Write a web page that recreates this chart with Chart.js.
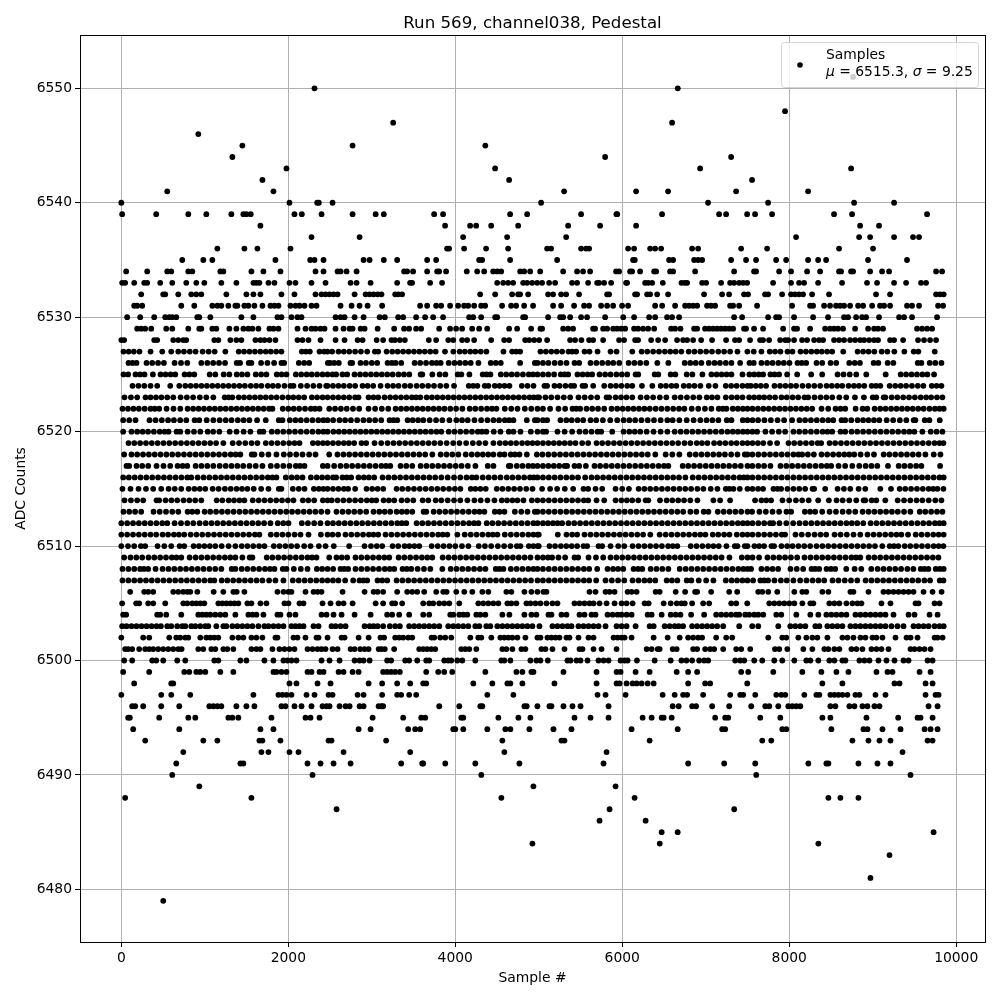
<!DOCTYPE html>
<html>
<head>
<meta charset="utf-8">
<title>Run 569, channel038, Pedestal</title>
<script src="https://cdn.jsdelivr.net/npm/chart.js@4/dist/chart.umd.min.js"></script>
<style>
  html, body { margin: 0; padding: 0; background: #fff; }
  canvas { display: block; }
</style>
</head>
<body>
<canvas id="chart" width="1000" height="1000"></canvas>
<script>
const title = "Run 569, channel038, Pedestal";
const xLabel = "Sample #";
const yLabel = "ADC Counts";
const xTicks = [0, 2000, 4000, 6000, 8000, 10000];
const yTicks = [6480, 6490, 6500, 6510, 6520, 6530, 6540, 6550];
const xRange = [-495, 10345];
const yRange = [6475.4, 6554.66];

// sample numbers, one list per ADC level
const x6551 = [8765];
const x6550 = [2314, 6665];
const x6548 = [7950];
const x6547 = [3256, 6597];
const x6546 = [922];
const x6545 = [1450, 2770, 4360];
const x6544 = [1330, 5795, 7304];
const x6543 = [1978, 4477, 6933, 8741];
const x6542 = [1690, 4645, 7555];
const x6541 = [550, 1822, 5304, 6166, 6549, 7364, 8226];
const x6540 = [0, 2014, 2346, 2366, 2530, 5028, 7028, 7747, 8777, 9256];
const x6539 = [10, 418, 802, 1018, 1318, 1462, 1498, 1550, 2074, 2162, 2398, 2770, 3046, 3144, 3747, 3854, 4657, 4861, 5507, 5930, 5940, 6477, 7160, 7244, 7496, 7591, 7795, 8537, 8753, 9651];
const x6538 = [1666, 3878, 4178, 4250, 4430, 4753, 5352, 5735, 6166, 8849, 9076];
const x6537 = [2278, 2854, 4094, 4621, 5328, 8082, 8837, 8969, 9256, 9483, 9555];
const x6536 = [1150, 1474, 1630, 2026, 3902, 3926, 4106, 4369, 4633, 5100, 5148, 5507, 5567, 5603, 6070, 6142, 6334, 6394, 6466, 6837, 6909, 7424, 7735, 8597, 9004];
const x6535 = [730, 982, 1090, 1846, 2262, 2314, 2422, 2902, 2974, 3144, 3304, 3663, 3771, 4286, 4322, 4657, 5220, 6130, 6150, 6561, 6609, 6861, 6909, 6957, 7304, 7483, 7603, 7843, 7963, 8226, 8346, 8442, 8944, 9411];
const x6534 = [58, 310, 550, 598, 802, 850, 1186, 1222, 1558, 1702, 1906, 2326, 2422, 2590, 2626, 2698, 2818, 3387, 3423, 3495, 3663, 3783, 3807, 3890, 4138, 4262, 4346, 4454, 4502, 4550, 4777, 4825, 4897, 5017, 5292, 5459, 5531, 5615, 5926, 5962, 6094, 6118, 6214, 6382, 6406, 6573, 6609, 6873, 7340, 7579, 7603, 7879, 8022, 8214, 8370, 8597, 8621, 8741, 8765, 8969, 9112, 9196, 9759, 9831];
const x6533 = [10, 46, 154, 274, 310, 466, 610, 778, 898, 994, 1198, 1378, 1582, 1618, 1654, 1762, 1834, 2014, 2086, 2278, 2446, 2746, 2818, 2986, 3304, 3459, 3483, 3699, 3842, 4502, 4574, 4633, 4693, 4813, 4861, 4921, 4981, 5040, 5124, 5196, 5399, 5459, 5591, 5699, 5723, 5783, 5867, 6046, 6058, 6274, 6310, 6358, 6486, 6709, 6749, 6777, 6957, 7005, 7184, 7292, 7340, 7400, 7448, 7496, 7807, 8022, 8118, 8178, 8346, 8633, 8932, 9052, 9256, 9400, 9579, 9639];
const x6532 = [238, 502, 526, 682, 838, 898, 958, 1258, 1498, 1582, 1666, 1918, 2074, 2326, 2398, 2446, 2494, 2542, 2590, 2794, 2926, 2974, 3022, 3070, 3116, 3280, 3316, 3363, 4298, 4478, 4681, 4753, 4777, 4873, 5112, 5172, 5268, 5328, 5483, 5819, 5843, 6154, 6178, 6298, 6334, 6418, 6549, 6980, 7196, 7280, 7459, 7507, 7711, 7747, 7915, 8022, 8070, 8118, 8166, 8274, 8477, 9040, 9208, 9759, 9807, 9850];
const x6531 = [154, 190, 250, 718, 874, 1090, 1150, 1198, 1282, 1366, 1390, 1474, 1522, 1594, 1690, 1786, 1834, 1882, 2026, 2086, 2134, 2194, 2278, 2338, 2626, 2758, 2854, 2950, 3124, 3579, 3663, 3771, 3831, 3938, 4034, 4106, 4154, 4226, 4310, 4358, 4561, 4669, 4729, 4825, 4932, 5172, 5268, 5423, 5543, 5603, 5747, 5819, 5891, 5998, 6070, 6394, 6478, 6633, 6753, 6801, 6849, 6897, 7016, 7064, 7112, 7292, 7328, 7400, 7615, 8034, 8250, 8286, 8418, 8489, 8561, 8609, 8657, 8729, 8825, 8885, 8993, 9088, 9136, 9208, 9411, 9471, 9555, 9783, 9843];
const x6530 = [70, 226, 394, 526, 574, 610, 658, 910, 934, 1066, 1438, 1582, 1870, 1918, 2038, 2110, 2158, 2566, 2626, 2674, 2794, 2902, 3094, 3156, 3316, 3376, 3531, 3639, 3735, 3854, 4166, 4214, 4310, 4478, 4502, 4813, 4837, 5112, 5256, 5292, 5376, 5507, 5579, 5795, 6012, 6142, 6322, 6394, 6537, 6597, 6681, 7340, 7436, 7747, 7843, 7879, 8058, 8286, 8465, 8657, 8705, 8801, 8873, 8921, 9076, 9316, 9376, 9471, 9771];
const x6529 = [190, 238, 286, 358, 538, 610, 802, 934, 958, 1090, 1138, 1294, 1378, 1462, 1522, 1570, 1642, 1774, 1822, 1882, 2110, 2206, 2278, 2326, 2386, 2434, 2566, 2662, 2734, 2770, 2866, 2914, 3070, 3268, 3387, 3447, 3531, 3591, 3807, 3938, 4010, 4082, 4202, 4286, 4382, 4645, 4741, 4909, 5020, 5040, 5292, 5352, 5411, 5651, 5675, 5771, 5819, 5891, 5939, 5987, 6035, 6142, 6190, 6250, 6310, 6382, 6585, 6633, 6697, 6861, 6897, 6992, 7040, 7088, 7136, 7184, 7232, 7280, 7328, 7459, 7483, 7579, 7687, 7927, 8058, 8094, 8250, 8430, 8489, 8537, 8585, 8645, 8789, 8945, 9017, 9064, 9124, 9531, 9591, 9651, 9711];
const x6528 = [0, 34, 394, 430, 622, 682, 742, 778, 1114, 1162, 1306, 1378, 1438, 1606, 1666, 1714, 1774, 1846, 2110, 2170, 2242, 2386, 2566, 2674, 2830, 2890, 3058, 3136, 3236, 3276, 3336, 3396, 3683, 3771, 3916, 3976, 4082, 4142, 4226, 4430, 4586, 4645, 4837, 4885, 4945, 5005, 5100, 5375, 5435, 5511, 5603, 5651, 5771, 5962, 6022, 6154, 6190, 6346, 6430, 6514, 6657, 6729, 6777, 6849, 6945, 7076, 7244, 7351, 7400, 7531, 7651, 7687, 7759, 7891, 7951, 7987, 8058, 8154, 8214, 8298, 8358, 8406, 8537, 8597, 8657, 8729, 8789, 8849, 8897, 8957, 9017, 9064, 9208, 9256, 9364, 9543, 9615, 9687, 9759];
const x6527 = [26, 88, 150, 218, 350, 490, 598, 682, 750, 820, 890, 974, 1046, 1118, 1246, 1406, 1470, 1535, 1600, 1665, 1730, 1790, 1855, 1918, 2162, 2210, 2258, 2374, 2430, 2470, 2525, 2601, 2665, 2730, 2800, 2870, 2945, 3037, 3077, 3177, 3245, 3310, 3375, 3440, 3505, 3570, 3635, 3700, 3765, 3877, 3977, 4053, 4115, 4180, 4240, 4305, 4373, 4577, 4681, 4730, 4777, 5020, 5085, 5150, 5215, 5280, 5356, 5400, 5448, 5548, 5608, 5704, 5860, 5932, 6120, 6232, 6300, 6370, 6440, 6510, 6575, 6640, 6708, 6796, 6865, 6935, 7005, 7075, 7150, 7220, 7292, 7380, 7499, 7575, 7667, 7767, 7830, 7895, 7979, 8039, 8135, 8200, 8265, 8330, 8390, 8455, 8515, 8647, 8819, 8885, 8950, 9019, 9107, 9175, 9259, 9379, 9491, 9547, 9743];
const x6526 = [86, 134, 182, 302, 370, 440, 510, 638, 715, 790, 958, 1030, 1100, 1170, 1242, 1382, 1422, 1526, 1558, 1674, 1750, 1830, 1918, 1950, 2126, 2190, 2250, 2474, 2500, 2550, 2605, 2745, 2765, 2865, 2930, 3000, 3065, 3189, 3240, 3285, 3353, 3513, 3580, 3650, 3720, 3775, 3825, 3921, 3990, 4055, 4120, 4185, 4277, 4425, 4485, 4545, 4777, 4953, 4985, 5050, 5115, 5190, 5260, 5332, 5428, 5484, 5620, 5690, 5760, 5830, 5892, 5964, 6076, 6145, 6215, 6288, 6420, 6552, 6748, 6815, 6880, 6948, 7036, 7105, 7170, 7240, 7308, 7412, 7524, 7575, 7667, 7735, 7800, 7870, 7935, 8003, 8099, 8150, 8203, 8327, 8395, 8495, 8563, 8719, 8785, 8847, 9011, 9067, 9179, 9247, 9539, 9583, 9683, 9750, 9823];
const x6525 = [26, 82, 170, 225, 278, 378, 470, 530, 590, 646, 758, 815, 874, 1058, 1126, 1226, 1294, 1382, 1445, 1510, 1610, 1675, 1738, 1862, 1920, 1978, 2090, 2155, 2220, 2280, 2345, 2410, 2470, 2530, 2573, 2649, 2705, 2793, 2860, 2925, 2990, 3055, 3120, 3185, 3250, 3320, 3385, 3449, 3585, 3605, 3725, 3813, 3881, 4029, 4073, 4169, 4329, 4375, 4421, 4545, 4610, 4675, 4740, 4810, 4880, 4930, 4985, 5050, 5115, 5184, 5264, 5310, 5352, 5464, 5525, 5585, 5640, 5728, 5795, 5860, 5930, 5995, 6060, 6160, 6192, 6388, 6432, 6580, 6636, 6772, 6840, 6960, 7068, 7130, 7190, 7250, 7308, 7440, 7523, 7580, 7635, 7687, 7775, 7825, 7879, 7975, 8095, 8263, 8395, 8579, 8650, 8725, 8803, 8923, 9155, 9335, 9400, 9465, 9530, 9595, 9655, 9735];
const x6524 = [134, 205, 275, 350, 430, 586, 694, 766, 830, 895, 960, 1025, 1090, 1155, 1220, 1285, 1350, 1415, 1480, 1550, 1615, 1678, 1754, 1815, 1878, 1954, 2026, 2062, 2150, 2225, 2300, 2374, 2454, 2470, 2535, 2600, 2665, 2735, 2801, 2889, 2950, 3017, 3105, 3189, 3255, 3320, 3395, 3461, 3537, 3605, 3675, 3745, 3820, 3893, 3985, 4161, 4215, 4265, 4353, 4397, 4473, 4530, 4590, 4649, 4797, 4865, 4937, 5068, 5100, 5188, 5250, 5320, 5385, 5424, 5524, 5556, 5652, 5784, 5860, 5925, 5990, 6060, 6120, 6236, 6360, 6460, 6524, 6590, 6648, 6736, 6800, 6865, 6936, 7036, 7116, 7240, 7305, 7370, 7440, 7500, 7540, 7600, 7660, 7723, 7823, 7890, 7955, 8020, 8083, 8159, 8230, 8300, 8371, 8447, 8510, 8575, 8635, 8711, 8775, 8835, 8899, 8987, 9040, 9091, 9203, 9270, 9335, 9400, 9470, 9540, 9607, 9707, 9765, 9823];
const x6523 = [38, 115, 190, 290, 350, 415, 480, 550, 622, 710, 785, 860, 940, 1018, 1102, 1238, 1285, 1330, 1406, 1470, 1535, 1600, 1665, 1730, 1795, 1860, 1930, 2000, 2060, 2125, 2190, 2282, 2345, 2410, 2470, 2535, 2600, 2665, 2730, 2800, 2841, 2961, 3020, 3077, 3153, 3220, 3285, 3350, 3415, 3480, 3530, 3581, 3657, 3720, 3785, 3850, 3915, 3980, 4045, 4110, 4175, 4240, 4305, 4370, 4435, 4500, 4565, 4630, 4695, 4760, 4825, 4890, 4940, 4985, 5004, 5080, 5150, 5225, 5300, 5376, 5476, 5550, 5625, 5700, 5812, 5844, 5920, 5985, 6050, 6120, 6220, 6295, 6370, 6450, 6528, 6628, 6700, 6775, 6850, 6924, 7012, 7075, 7140, 7240, 7310, 7375, 7440, 7520, 7580, 7640, 7700, 7765, 7831, 7907, 7970, 8040, 8107, 8183, 8227, 8303, 8375, 8445, 8515, 8600, 8683, 8787, 8895, 9000, 9043, 9131, 9151, 9227, 9295, 9365, 9435, 9505, 9575, 9640, 9700, 9770, 9835];
const x6522 = [14, 80, 145, 210, 280, 350, 400, 454, 542, 625, 706, 794, 860, 925, 990, 1055, 1120, 1185, 1250, 1315, 1380, 1445, 1510, 1575, 1640, 1705, 1770, 1810, 1934, 2000, 2065, 2130, 2200, 2270, 2320, 2374, 2490, 2560, 2630, 2700, 2775, 2849, 2961, 3040, 3120, 3197, 3285, 3350, 3415, 3480, 3545, 3610, 3675, 3740, 3805, 3870, 3940, 4010, 4085, 4173, 4240, 4310, 4380, 4440, 4493, 4593, 4670, 4745, 4833, 4910, 4985, 5050, 5136, 5236, 5316, 5404, 5450, 5496, 5572, 5640, 5710, 5784, 5872, 5940, 6005, 6070, 6135, 6200, 6265, 6330, 6400, 6470, 6540, 6610, 6680, 6744, 6832, 6910, 6990, 7068, 7156, 7205, 7248, 7324, 7385, 7445, 7500, 7560, 7625, 7690, 7755, 7820, 7885, 7950, 8015, 8080, 8145, 8210, 8275, 8387, 8467, 8555, 8615, 8671, 8795, 8879, 8935, 9023, 9090, 9155, 9220, 9285, 9350, 9415, 9480, 9545, 9610, 9680, 9745, 9800, 9850];
const x6521 = [22, 95, 170, 338, 410, 485, 560, 630, 705, 778, 878, 934, 1022, 1102, 1178, 1250, 1320, 1395, 1465, 1534, 1626, 1730, 1886, 1930, 2018, 2085, 2150, 2220, 2290, 2360, 2420, 2470, 2537, 2613, 2680, 2750, 2825, 2900, 2970, 3040, 3113, 3213, 3260, 3305, 3429, 3490, 3555, 3617, 3693, 3770, 3845, 3930, 4013, 4081, 4149, 4230, 4310, 4385, 4457, 4525, 4593, 4645, 4697, 4857, 4953, 4985, 5050, 5100, 5260, 5330, 5395, 5465, 5532, 5620, 5688, 5768, 5856, 5940, 6016, 6085, 6155, 6230, 6305, 6380, 6460, 6540, 6604, 6684, 6772, 6855, 6935, 7010, 7080, 7152, 7252, 7308, 7444, 7500, 7560, 7627, 7703, 7780, 7860, 7939, 8035, 8123, 8190, 8260, 8330, 8400, 8467, 8527, 8627, 8671, 8743, 8819, 8885, 8950, 9015, 9079, 9167, 9245, 9325, 9403, 9491, 9511, 9623, 9679, 9803];
const x6520 = [22, 122, 190, 255, 320, 390, 460, 520, 566, 662, 706, 794, 870, 946, 1034, 1100, 1174, 1298, 1380, 1465, 1546, 1658, 1702, 1802, 1870, 1940, 2010, 2080, 2150, 2220, 2290, 2360, 2420, 2470, 2540, 2605, 2670, 2735, 2800, 2865, 2930, 2995, 3060, 3125, 3190, 3255, 3320, 3385, 3450, 3515, 3580, 3645, 3710, 3775, 3833, 3921, 3990, 4060, 4130, 4200, 4270, 4320, 4373, 4461, 4541, 4641, 4697, 4781, 4905, 4985, 5050, 5088, 5224, 5310, 5400, 5488, 5560, 5632, 5704, 5748, 5880, 6016, 6085, 6150, 6216, 6292, 6375, 6460, 6540, 6628, 6700, 6770, 6840, 6910, 6980, 7050, 7120, 7190, 7260, 7324, 7385, 7445, 7500, 7560, 7615, 7715, 7795, 7875, 7951, 8051, 8120, 8190, 8260, 8330, 8400, 8460, 8515, 8615, 8671, 8747, 8815, 8885, 8955, 9025, 9095, 9165, 9235, 9305, 9375, 9440, 9499, 9595, 9695, 9765, 9835];
const x6519 = [86, 155, 225, 295, 365, 435, 505, 575, 645, 715, 785, 855, 925, 995, 1065, 1135, 1222, 1334, 1410, 1485, 1560, 1630, 1730, 1800, 1870, 1940, 2010, 2075, 2134, 2294, 2355, 2415, 2470, 2535, 2600, 2665, 2725, 2789, 2877, 2933, 3033, 3113, 3189, 3260, 3330, 3400, 3470, 3540, 3610, 3680, 3750, 3821, 3897, 3975, 4050, 4130, 4210, 4285, 4361, 4457, 4533, 4600, 4665, 4730, 4800, 4865, 4925, 4985, 5050, 5115, 5180, 5245, 5310, 5375, 5440, 5520, 5592, 5692, 5760, 5830, 5900, 5970, 6040, 6110, 6180, 6250, 6320, 6390, 6460, 6530, 6600, 6670, 6745, 6816, 6892, 6955, 7020, 7100, 7168, 7235, 7305, 7370, 7440, 7500, 7560, 7625, 7690, 7770, 7855, 7991, 8060, 8130, 8200, 8270, 8340, 8383, 8483, 8550, 8620, 8690, 8760, 8830, 8900, 8970, 9040, 9110, 9180, 9250, 9320, 9390, 9460, 9530, 9600, 9670, 9740, 9800, 9847];
const x6518 = [34, 122, 190, 260, 330, 400, 470, 540, 610, 680, 750, 820, 890, 960, 1030, 1100, 1170, 1240, 1310, 1370, 1426, 1562, 1594, 1682, 1762, 1858, 1946, 2020, 2095, 2170, 2250, 2326, 2490, 2589, 2660, 2730, 2800, 2870, 2940, 3010, 3080, 3150, 3220, 3290, 3360, 3430, 3500, 3570, 3640, 3725, 3825, 3895, 3965, 4037, 4125, 4197, 4265, 4330, 4395, 4457, 4533, 4589, 4665, 4715, 4769, 4857, 4977, 5044, 5115, 5185, 5255, 5325, 5395, 5465, 5535, 5605, 5675, 5745, 5815, 5885, 5955, 6025, 6095, 6165, 6235, 6305, 6396, 6520, 6600, 6684, 6808, 6880, 6950, 7020, 7090, 7160, 7230, 7305, 7380, 7468, 7500, 7559, 7630, 7700, 7770, 7840, 7910, 7980, 8050, 8110, 8155, 8223, 8295, 8387, 8455, 8525, 8595, 8660, 8720, 8779, 8855, 8935, 9015, 9131, 9200, 9270, 9340, 9410, 9480, 9550, 9631, 9731, 9811];
const x6517 = [62, 94, 182, 250, 322, 422, 505, 586, 674, 735, 790, 890, 960, 1030, 1102, 1178, 1250, 1320, 1390, 1460, 1535, 1610, 1690, 1790, 1865, 1940, 2014, 2090, 2140, 2194, 2414, 2470, 2549, 2625, 2695, 2765, 2835, 2905, 2975, 3045, 3115, 3170, 3221, 3345, 3413, 3485, 3585, 3655, 3725, 3795, 3865, 3935, 4005, 4075, 4150, 4241, 4389, 4457, 4641, 4661, 4737, 4805, 4875, 4930, 4985, 5050, 5115, 5180, 5245, 5310, 5340, 5428, 5484, 5564, 5668, 5735, 5805, 5875, 5945, 6015, 6085, 6155, 6225, 6295, 6365, 6435, 6500, 6552, 6724, 6790, 6860, 6930, 7000, 7070, 7140, 7210, 7280, 7350, 7420, 7500, 7559, 7630, 7699, 7775, 7895, 7965, 8035, 8105, 8175, 8245, 8315, 8385, 8450, 8503, 8591, 8670, 8755, 8839, 8915, 8985, 9055, 9183, 9311, 9380, 9450, 9520, 9583, 9807];
const x6516 = [22, 90, 160, 230, 300, 370, 440, 510, 580, 650, 720, 790, 838, 914, 985, 1055, 1125, 1195, 1265, 1335, 1405, 1475, 1545, 1615, 1685, 1755, 1810, 1858, 1970, 2040, 2105, 2170, 2270, 2340, 2405, 2470, 2535, 2573, 2649, 2700, 2753, 2841, 2905, 2965, 3029, 3129, 3200, 3270, 3340, 3410, 3480, 3550, 3620, 3690, 3760, 3833, 3909, 3985, 4060, 4135, 4200, 4253, 4329, 4400, 4470, 4541, 4617, 4685, 4755, 4825, 4895, 4940, 4985, 5050, 5120, 5190, 5260, 5330, 5400, 5470, 5556, 5632, 5700, 5770, 5840, 5910, 5980, 6050, 6120, 6190, 6260, 6330, 6400, 6470, 6540, 6610, 6680, 6756, 6844, 6915, 6985, 7055, 7125, 7195, 7265, 7335, 7405, 7455, 7500, 7560, 7630, 7700, 7770, 7840, 7910, 7980, 8050, 8120, 8190, 8260, 8330, 8400, 8470, 8540, 8610, 8680, 8750, 8820, 8890, 8960, 9030, 9100, 9170, 9240, 9310, 9380, 9450, 9520, 9590, 9660, 9730, 9800, 9850];
const x6515 = [14, 110, 206, 295, 382, 478, 566, 640, 718, 806, 875, 940, 1006, 1094, 1165, 1240, 1310, 1380, 1445, 1510, 1586, 1675, 1762, 1886, 1918, 2054, 2125, 2194, 2306, 2365, 2420, 2470, 2535, 2600, 2665, 2717, 2801, 2937, 3005, 3070, 3137, 3297, 3365, 3435, 3505, 3575, 3645, 3715, 3785, 3855, 3925, 3995, 4061, 4185, 4240, 4301, 4365, 4497, 4565, 4635, 4705, 4775, 4850, 4925, 5040, 5136, 5220, 5312, 5412, 5536, 5592, 5680, 5760, 5920, 6000, 6080, 6196, 6265, 6335, 6405, 6475, 6545, 6615, 6685, 6755, 6825, 6900, 6972, 7060, 7140, 7240, 7285, 7332, 7408, 7500, 7560, 7627, 7687, 7811, 7860, 7903, 7979, 8050, 8120, 8191, 8279, 8299, 8431, 8579, 8655, 8731, 8831, 8911, 9091, 9219, 9323, 9390, 9460, 9530, 9600, 9670, 9725, 9775, 9847];
const x6514 = [38, 115, 190, 262, 422, 454, 530, 600, 670, 745, 815, 885, 958, 1142, 1210, 1286, 1350, 1415, 1474, 1574, 1645, 1715, 1785, 1855, 1925, 1995, 2062, 2174, 2240, 2310, 2414, 2470, 2520, 2590, 2660, 2730, 2800, 2870, 2940, 3000, 3053, 3141, 3205, 3269, 3357, 3425, 3497, 3609, 3677, 3765, 3833, 3909, 3985, 4060, 4145, 4229, 4305, 4385, 4469, 4557, 4620, 4685, 4745, 4817, 4917, 4985, 5050, 5120, 5190, 5260, 5330, 5400, 5470, 5540, 5592, 5692, 5784, 5920, 5990, 6055, 6120, 6192, 6280, 6312, 6452, 6532, 6600, 6670, 6740, 6815, 6900, 7092, 7172, 7292, 7591, 7667, 7725, 7783, 7919, 8000, 8080, 8155, 8233, 8347, 8475, 8567, 8640, 8719, 8803, 8891, 8911, 8987, 9043, 9151, 9299, 9375, 9450, 9525, 9595, 9671, 9750, 9823];
const x6513 = [26, 95, 165, 238, 386, 460, 535, 610, 682, 794, 850, 910, 998, 1065, 1135, 1205, 1275, 1345, 1415, 1485, 1555, 1625, 1695, 1765, 1835, 1905, 1975, 2045, 2115, 2185, 2255, 2325, 2395, 2470, 2577, 2650, 2720, 2790, 2860, 2933, 3021, 3090, 3155, 3221, 3297, 3360, 3420, 3485, 3621, 3653, 3741, 3810, 3880, 3950, 4020, 4090, 4160, 4230, 4290, 4349, 4473, 4530, 4589, 4713, 4790, 4865, 4953, 4985, 5050, 5120, 5190, 5260, 5330, 5400, 5470, 5540, 5610, 5680, 5750, 5820, 5890, 5960, 6030, 6100, 6170, 6240, 6310, 6380, 6450, 6520, 6590, 6660, 6730, 6816, 6888, 6976, 7032, 7144, 7215, 7285, 7355, 7425, 7500, 7555, 7643, 7720, 7800, 7879, 7967, 8023, 8187, 8250, 8311, 8395, 8483, 8560, 8640, 8715, 8791, 8879, 8950, 9020, 9090, 9160, 9230, 9300, 9375, 9451, 9563, 9630, 9700, 9770, 9835];
const x6512 = [0, 70, 140, 210, 280, 350, 420, 490, 550, 638, 715, 790, 862, 938, 1010, 1080, 1150, 1220, 1290, 1360, 1430, 1500, 1570, 1640, 1710, 1786, 1874, 1940, 2002, 2162, 2235, 2310, 2385, 2470, 2535, 2605, 2675, 2745, 2815, 2885, 2955, 3025, 3095, 3165, 3235, 3305, 3360, 3413, 3537, 3605, 3675, 3745, 3815, 3885, 3955, 4025, 4095, 4165, 4225, 4277, 4377, 4445, 4515, 4585, 4655, 4725, 4795, 4865, 4935, 4985, 5050, 5110, 5170, 5225, 5280, 5356, 5425, 5495, 5565, 5635, 5705, 5775, 5845, 5915, 5985, 6055, 6125, 6195, 6265, 6335, 6405, 6475, 6545, 6615, 6685, 6755, 6825, 6895, 6965, 7035, 7105, 7175, 7245, 7315, 7385, 7445, 7500, 7560, 7630, 7700, 7770, 7807, 7883, 7965, 8047, 8123, 8195, 8265, 8335, 8405, 8475, 8545, 8615, 8685, 8750, 8815, 8887, 8975, 9045, 9115, 9185, 9255, 9325, 9395, 9465, 9535, 9605, 9675, 9745, 9800, 9850];
const x6511 = [0, 70, 140, 210, 280, 350, 418, 494, 560, 630, 690, 754, 830, 900, 970, 1040, 1110, 1180, 1250, 1320, 1390, 1460, 1530, 1600, 1654, 1790, 1860, 1930, 2000, 2075, 2146, 2242, 2390, 2470, 2530, 2597, 2685, 2755, 2825, 2895, 2965, 3020, 3077, 3165, 3235, 3305, 3375, 3445, 3515, 3585, 3655, 3725, 3795, 3850, 3905, 4025, 4113, 4185, 4255, 4325, 4395, 4450, 4505, 4593, 4665, 4735, 4805, 4875, 4935, 4985, 5000, 5228, 5332, 5400, 5460, 5548, 5620, 5690, 5760, 5830, 5900, 5970, 6040, 6110, 6180, 6250, 6336, 6448, 6520, 6590, 6660, 6730, 6800, 6870, 6935, 6996, 7084, 7150, 7220, 7284, 7372, 7440, 7500, 7560, 7630, 7700, 7770, 7840, 7910, 7951, 8075, 8150, 8227, 8303, 8375, 8443, 8543, 8615, 8690, 8770, 8851, 8939, 9010, 9080, 9150, 9220, 9285, 9343, 9423, 9515, 9585, 9655, 9725, 9790, 9850];
const x6510 = [0, 80, 154, 234, 286, 434, 515, 598, 698, 754, 866, 930, 995, 1060, 1126, 1202, 1285, 1366, 1442, 1510, 1580, 1650, 1714, 1826, 1895, 1965, 2035, 2105, 2190, 2266, 2366, 2446, 2545, 2729, 2913, 2990, 3060, 3125, 3249, 3317, 3393, 3450, 3510, 3569, 3717, 3790, 3860, 3930, 4000, 4080, 4157, 4281, 4355, 4430, 4510, 4585, 4661, 4737, 4781, 4881, 4935, 4985, 5000, 5128, 5195, 5265, 5330, 5395, 5460, 5536, 5580, 5716, 5760, 5860, 5952, 6024, 6124, 6195, 6265, 6335, 6405, 6475, 6550, 6605, 6660, 6820, 6890, 6960, 7030, 7092, 7156, 7248, 7348, 7380, 7468, 7500, 7583, 7640, 7699, 7787, 7819, 7907, 7975, 8040, 8110, 8180, 8251, 8327, 8397, 8467, 8537, 8607, 8677, 8747, 8817, 8887, 8957, 9027, 9115, 9203, 9255, 9307, 9383, 9450, 9520, 9590, 9660, 9730, 9790, 9847];
const x6509 = [34, 110, 180, 250, 326, 395, 465, 535, 605, 660, 718, 818, 890, 960, 1030, 1100, 1170, 1240, 1305, 1366, 1450, 1538, 1570, 1742, 1810, 1880, 1950, 2020, 2090, 2160, 2230, 2285, 2338, 2490, 2577, 2640, 2705, 2805, 2875, 2945, 3015, 3085, 3150, 3209, 3321, 3390, 3460, 3530, 3600, 3665, 3725, 3849, 3920, 3990, 4060, 4130, 4200, 4270, 4340, 4410, 4480, 4550, 4620, 4690, 4760, 4830, 4900, 4985, 5050, 5110, 5160, 5236, 5316, 5428, 5472, 5596, 5685, 5772, 5860, 5930, 6000, 6070, 6140, 6210, 6280, 6350, 6420, 6490, 6560, 6630, 6700, 6770, 6840, 6910, 6980, 7050, 7120, 7190, 7284, 7432, 7500, 7560, 7639, 7739, 7810, 7880, 7950, 8020, 8095, 8183, 8255, 8325, 8395, 8465, 8535, 8605, 8675, 8745, 8800, 8851, 8951, 9020, 9090, 9160, 9230, 9300, 9370, 9440, 9510, 9580, 9650, 9720, 9787];
const x6508 = [14, 85, 155, 225, 270, 322, 410, 494, 565, 635, 705, 775, 845, 915, 985, 1055, 1125, 1198, 1322, 1366, 1442, 1510, 1580, 1650, 1720, 1780, 1834, 1934, 1978, 2066, 2150, 2230, 2342, 2405, 2470, 2537, 2625, 2670, 2717, 2805, 2875, 2945, 3015, 3085, 3155, 3215, 3269, 3369, 3420, 3473, 3549, 3625, 3701, 3845, 3945, 4015, 4085, 4155, 4225, 4295, 4361, 4485, 4530, 4577, 4665, 4735, 4805, 4875, 4935, 4985, 5050, 5120, 5190, 5260, 5330, 5400, 5470, 5540, 5604, 5700, 5824, 5890, 5950, 6012, 6136, 6190, 6240, 6340, 6410, 6480, 6552, 6688, 6760, 6830, 6900, 6970, 7040, 7110, 7180, 7250, 7320, 7390, 7450, 7500, 7543, 7667, 7735, 7800, 7867, 8015, 8090, 8167, 8267, 8310, 8359, 8447, 8500, 8551, 8683, 8783, 8863, 8983, 9059, 9130, 9200, 9270, 9340, 9415, 9487, 9575, 9620, 9667, 9755, 9805, 9850];
const x6507 = [14, 85, 155, 225, 295, 365, 435, 505, 575, 645, 715, 785, 855, 925, 995, 1065, 1114, 1202, 1270, 1340, 1410, 1480, 1550, 1620, 1690, 1770, 1846, 1942, 2054, 2125, 2195, 2265, 2335, 2405, 2470, 2535, 2600, 2681, 2777, 2853, 2900, 2945, 3069, 3125, 3185, 3297, 3367, 3437, 3507, 3577, 3647, 3717, 3787, 3857, 3927, 3997, 4067, 4137, 4207, 4277, 4347, 4417, 4487, 4557, 4627, 4697, 4767, 4837, 4907, 4985, 5050, 5120, 5190, 5260, 5330, 5400, 5470, 5540, 5604, 5688, 5800, 5875, 5950, 6024, 6124, 6195, 6265, 6330, 6396, 6532, 6595, 6660, 6772, 6828, 6916, 7005, 7092, 7240, 7310, 7375, 7440, 7500, 7567, 7655, 7700, 7747, 7823, 7900, 7970, 8050, 8131, 8207, 8280, 8350, 8419, 8519, 8590, 8665, 8740, 8815, 8915, 8985, 9055, 9125, 9195, 9265, 9335, 9405, 9475, 9545, 9619, 9687, 9803, 9847];
const x6506 = [106, 274, 322, 382, 622, 682, 742, 790, 826, 910, 1106, 1222, 1342, 1382, 1474, 1870, 1942, 2002, 2038, 2206, 2302, 2350, 2398, 2650, 2914, 3022, 3070, 3136, 3304, 3424, 3484, 3544, 3628, 3772, 3856, 3896, 4012, 4108, 4204, 4324, 4396, 4612, 4672, 4828, 4912, 4984, 5056, 5092, 5608, 5680, 5800, 5848, 5908, 6064, 6112, 6172, 6400, 6448, 6640, 6753, 6873, 6897, 7065, 7281, 7377, 7629, 7677, 7749, 7857, 8061, 8157, 8205, 8397, 8469, 8733, 8769, 8949, 9129, 9189, 9249, 9309, 9369, 9429, 9489, 9609, 9717, 9825];
const x6505 = [10, 178, 214, 322, 382, 526, 742, 790, 850, 898, 946, 994, 1162, 1210, 1258, 1306, 1354, 1402, 1510, 1558, 1666, 1738, 1954, 2002, 2134, 2182, 2410, 2506, 2602, 2662, 2770, 3046, 3136, 3244, 3280, 3364, 3616, 3688, 3736, 3808, 3868, 3928, 4048, 4276, 4336, 4396, 4456, 4516, 4624, 4672, 4732, 4852, 4900, 4960, 5020, 5092, 5164, 5224, 5428, 5488, 5548, 5608, 5656, 5728, 5812, 5908, 5992, 6052, 6124, 6268, 6316, 6496, 6580, 6652, 6709, 6749, 6837, 6969, 7041, 7305, 7365, 7497, 7761, 7821, 7881, 7941, 8001, 8061, 8157, 8253, 8289, 8481, 8541, 8601, 8685, 8757, 8817, 8865, 9105, 9213, 9513, 9549, 9741, 9801];
const x6504 = [22, 58, 430, 466, 538, 718, 922, 970, 1018, 1066, 1126, 1186, 1246, 1366, 1522, 1570, 1618, 1702, 1870, 1906, 2014, 2086, 2398, 2458, 2542, 2638, 2794, 2986, 3184, 3244, 3328, 3448, 3616, 3688, 3940, 3976, 4048, 4096, 4144, 4252, 4300, 4360, 4564, 4648, 4828, 4912, 4972, 5116, 5152, 5272, 5332, 5488, 5548, 5632, 5680, 5824, 5884, 5944, 5992, 6052, 6112, 6304, 6352, 6472, 6580, 6640, 6697, 6825, 6981, 7125, 7185, 7245, 7305, 7365, 7401, 7473, 7521, 7581, 7629, 7689, 7845, 7905, 8085, 8253, 8349, 8445, 8505, 8565, 8625, 8685, 8793, 8853, 8913, 8973, 9033, 9093, 9153, 9249, 9429, 9501, 9681, 9777];
const x6503 = [10, 62, 122, 182, 242, 302, 362, 422, 474, 550, 598, 670, 730, 766, 838, 886, 946, 1006, 1042, 1138, 1222, 1258, 1330, 1390, 1450, 1510, 1570, 1642, 1714, 1762, 1822, 1882, 1942, 2038, 2086, 2134, 2182, 2302, 2362, 2518, 2566, 2626, 2686, 2914, 2974, 3022, 3070, 3136, 3216, 3280, 3336, 3448, 3508, 3568, 3628, 3688, 3748, 3808, 3916, 3976, 4036, 4096, 4156, 4240, 4288, 4372, 4420, 4504, 4564, 4624, 4684, 4744, 4804, 4864, 4924, 5008, 5164, 5224, 5284, 5344, 5392, 5476, 5536, 5596, 5656, 5716, 5800, 5932, 5992, 6052, 6160, 6328, 6376, 6508, 6568, 6628, 6676, 6729, 6837, 6897, 6957, 7017, 7077, 7137, 7209, 7401, 7557, 7629, 7869, 8013, 8073, 8133, 8193, 8313, 8361, 8457, 8517, 8577, 8637, 8733, 8793, 8853, 8913, 8973, 9033, 9093, 9153, 9225, 9297, 9369, 9489, 9549, 9609, 9669, 9741, 9801, 9850];
const x6502 = [0, 262, 334, 574, 658, 706, 766, 802, 946, 1018, 1066, 1114, 1162, 1330, 1402, 1462, 1558, 1618, 1690, 1846, 1870, 2062, 2110, 2206, 2338, 2362, 2470, 2638, 2674, 2842, 2962, 3104, 3148, 3280, 3328, 3376, 3436, 3484, 3716, 3748, 3820, 3880, 3952, 4180, 4276, 4312, 4432, 4540, 4588, 4636, 4684, 4744, 4840, 4984, 5020, 5104, 5152, 5200, 5248, 5332, 5368, 5476, 5596, 5656, 5896, 5944, 5992, 6028, 6112, 6376, 6544, 6688, 6789, 6849, 6909, 6957, 7125, 7245, 7317, 7749, 7917, 7965, 8109, 8205, 8277, 8337, 8457, 8637, 8697, 8769, 8853, 8913, 8997, 9045, 9117, 9273, 9405, 9453, 9537, 9741, 9777, 9837];
const x6501 = [46, 82, 130, 214, 286, 334, 382, 442, 502, 562, 622, 682, 722, 922, 982, 1078, 1126, 1222, 1270, 1342, 1558, 1618, 1666, 1810, 1894, 1954, 2014, 2074, 2230, 2290, 2350, 2398, 2446, 2530, 2590, 2746, 2794, 2862, 2914, 2962, 3082, 3116, 3156, 3268, 3568, 3616, 3664, 3712, 3760, 4072, 4120, 4168, 4252, 4564, 4612, 4684, 4792, 4840, 5032, 5080, 5164, 5308, 5488, 5524, 5656, 5752, 5932, 6292, 6352, 6424, 6448, 6604, 6652, 6849, 6897, 6993, 7053, 7101, 7209, 7365, 7425, 7533, 7829, 7881, 7977, 8169, 8277, 8421, 8469, 8541, 8601, 8745, 8805, 8877, 8985, 9045, 9105, 9189, 9453, 9501, 9561, 9621, 9693];
const x6500 = [34, 130, 370, 418, 502, 670, 766, 1114, 1162, 1426, 1498, 1714, 1822, 1942, 1990, 2038, 2098, 2398, 2494, 2614, 2794, 2854, 2902, 2974, 3184, 3232, 3400, 3448, 3544, 3652, 3688, 3868, 3916, 3952, 4024, 4084, 4240, 4552, 4588, 4660, 4900, 4972, 5020, 5108, 5344, 5380, 5452, 5500, 5584, 5716, 5776, 5836, 5980, 6028, 6064, 6176, 6388, 6580, 6709, 6769, 6837, 6921, 6981, 7029, 7353, 7413, 7461, 7581, 7677, 7821, 7917, 8061, 8205, 8253, 8349, 8481, 8541, 8637, 8673, 8841, 8901, 8961, 9069, 9165, 9261, 9369, 9429, 9657, 9717];
const x6499 = [22, 334, 754, 814, 898, 946, 1006, 1186, 1342, 1822, 1858, 1918, 1978, 2230, 2278, 2374, 2422, 2602, 2662, 2770, 2842, 3136, 3184, 3232, 3280, 3336, 3652, 3796, 3868, 3964, 4360, 4732, 4804, 4912, 4936, 5296, 5692, 5932, 5980, 6160, 6328, 6652, 6789, 6897, 7425, 7509, 7809, 8157, 8385, 8565, 8709, 9045, 9177, 9237, 9561, 9693];
const x6498 = [154, 598, 622, 2014, 2098, 2350, 2506, 2962, 3124, 3304, 3460, 3616, 3652, 4216, 4444, 4624, 4660, 4804, 5188, 5692, 5932, 5968, 6052, 6124, 6172, 6232, 6304, 6376, 6789, 6993, 7053, 7497, 8397, 8637, 9261, 9321, 9633, 9717];
const x6497 = [0, 478, 598, 826, 1582, 1882, 1930, 1978, 2038, 2218, 2314, 2482, 2530, 2830, 2902, 3124, 3304, 3352, 3448, 3532, 4384, 4696, 5704, 5800, 6040, 6484, 6628, 6729, 6777, 6969, 7293, 7413, 7449, 7593, 7845, 7905, 7953, 8181, 8325, 8361, 8493, 8541, 8589, 8637, 8697, 8793, 8841, 9033, 9153, 9633, 9753, 9789];
const x6496 = [130, 166, 262, 478, 694, 1054, 1102, 1150, 1198, 1378, 1498, 1594, 1918, 1966, 2074, 2158, 2278, 2410, 2458, 2494, 2614, 2686, 2734, 2854, 2902, 3082, 3116, 3136, 3808, 4048, 4300, 4324, 4828, 4856, 4984, 5128, 5152, 5296, 5404, 5500, 5836, 6604, 6676, 6837, 6885, 7077, 7281, 7545, 7713, 7761, 7869, 7989, 8037, 8085, 8133, 8493, 8553, 8721, 8781, 8877, 8937, 9021, 9081, 9669, 9777];
const x6495 = [82, 102, 454, 802, 886, 1282, 1330, 1402, 1798, 2206, 2266, 2374, 3010, 3376, 3592, 3640, 4072, 4096, 4516, 4756, 4900, 5428, 5620, 5836, 6244, 6352, 6472, 6496, 6592, 7113, 7233, 7269, 7653, 7893, 8397, 8493, 8925, 9305, 9537, 9573, 9717];
const x6494 = [142, 694, 1666, 1822, 2842, 2986, 3436, 3520, 3580, 3976, 4000, 4096, 4384, 4600, 4660, 4888, 5176, 5392, 6112, 6664, 7197, 7233, 7917, 7965, 8505, 8889, 8937, 9117, 9333, 9621, 9693, 9777];
const x6493 = [286, 982, 1150, 1654, 1690, 1906, 2482, 2518, 3172, 4564, 5272, 5308, 6328, 7677, 7785, 8757, 8949, 9081, 9213, 9657, 9717];
const x6492 = [742, 1678, 1762, 2014, 2122, 2662, 3460, 4588, 5812, 9357];
const x6491 = [658, 1426, 1462, 2230, 2386, 2542, 2746, 3352, 3604, 3616, 3880, 4240, 4768, 5776, 6789, 7221, 7593, 8229, 8445, 8469, 8829, 9057, 9213];
const x6490 = [610, 2290, 4312, 7605, 9453];
const x6489 = [934, 4936, 5920];
const x6488 = [46, 1558, 4552, 6148, 8469, 8613, 8829];
const x6487 = [2578, 5848, 7341];
const x6486 = [5728, 6280];
const x6485 = [6472, 6664, 9729];
const x6484 = [4924, 6449, 8349];
const x6483 = [9201];
const x6481 = [8973];
const x6479 = [502];

const levels = [
  [6551, x6551], [6550, x6550], [6548, x6548], [6547, x6547], [6546, x6546], [6545, x6545], [6544, x6544],
  [6543, x6543], [6542, x6542], [6541, x6541], [6540, x6540], [6539, x6539], [6538, x6538], [6537, x6537],
  [6536, x6536], [6535, x6535], [6534, x6534], [6533, x6533], [6532, x6532], [6531, x6531], [6530, x6530],
  [6529, x6529], [6528, x6528], [6527, x6527], [6526, x6526], [6525, x6525], [6524, x6524], [6523, x6523],
  [6522, x6522], [6521, x6521], [6520, x6520], [6519, x6519], [6518, x6518], [6517, x6517], [6516, x6516],
  [6515, x6515], [6514, x6514], [6513, x6513], [6512, x6512], [6511, x6511], [6510, x6510], [6509, x6509],
  [6508, x6508], [6507, x6507], [6506, x6506], [6505, x6505], [6504, x6504], [6503, x6503], [6502, x6502],
  [6501, x6501], [6500, x6500], [6499, x6499], [6498, x6498], [6497, x6497], [6496, x6496], [6495, x6495],
  [6494, x6494], [6493, x6493], [6492, x6492], [6491, x6491], [6490, x6490], [6489, x6489], [6488, x6488],
  [6487, x6487], [6486, x6486], [6485, x6485], [6484, x6484], [6483, x6483], [6481, x6481], [6479, x6479],
];

const font = "DejaVu Sans";
const points = levels.flatMap(([y, xs]) => xs.map((x) => ({ x, y })));

// frame on all four sides, and the legend box, which sits over the points
const framePlugin = {
  id: "frame",
  afterDraw(chart) {
    const { ctx, chartArea: a } = chart;
    ctx.save();
    ctx.strokeStyle = "#000";
    ctx.lineWidth = 1;
    ctx.strokeRect(a.left + 0.5, a.top + 0.5, a.right - a.left, a.bottom - a.top);

    ctx.beginPath();
    ctx.roundRect(781.5, 42.5, 197, 45, 3);
    ctx.fillStyle = "rgba(255,255,255,0.8)";
    ctx.fill();
    ctx.strokeStyle = "rgba(204,204,204,0.8)";
    ctx.stroke();

    ctx.fillStyle = "#000";
    ctx.beginPath();
    ctx.arc(800, 65, 2.8, 0, Math.PI * 2);
    ctx.fill();

    ctx.textBaseline = "alphabetic";
    ctx.textAlign = "left";
    ctx.font = `13.89px "${font}"`;
    ctx.fillText("Samples", 826, 59);
    let x = 826;
    [["italic", "\u03bc"], ["normal", " = 6515.3, "], ["italic", "\u03c3"], ["normal", " = 9.25"]].forEach(([style, text]) => {
      ctx.font = `${style} 13.89px "${font}"`;
      ctx.fillText(text, x, 76);
      x += ctx.measureText(text).width;
    });
    ctx.restore();
  },
};

new Chart(document.getElementById("chart"), {
  type: "scatter",
  plugins: [framePlugin],
  data: {
    datasets: [{
      label: "Samples",
      data: points,
      backgroundColor: "#000",
      borderWidth: 0,
      pointRadius: 2.9,
      pointHoverRadius: 2.9,
    }],
  },
  options: {
    responsive: false,
    animation: false,
    events: [],
    layout: { padding: { right: 15 } },
    plugins: {
      legend: { display: false },
      tooltip: { enabled: false },
      title: {
        display: true,
        fullSize: false,
        text: title,
        color: "#000",
        font: { family: font, size: 16.67, weight: "normal" },
        padding: { top: 14, bottom: 1 },
      },
    },
    scales: {
      x: {
        type: "linear",
        min: xRange[0],
        max: xRange[1],
        afterBuildTicks: (scale) => { scale.ticks = xTicks.map((value) => ({ value })); },
        afterFit: (scale) => { scale.height = 58; },
        ticks: { color: "#000", font: { family: font, size: 13.89 }, padding: 3, maxRotation: 0, autoSkip: false, callback: (v) => String(v) },
        grid: { color: "#b0b0b0", lineWidth: 1, tickColor: "#000", tickLength: 5 },
        border: { color: "#000", width: 1 },
        title: { display: true, text: xLabel, color: "#000", font: { family: font, size: 13.89 }, padding: { top: 0, bottom: 13 } },
      },
      y: {
        type: "linear",
        min: yRange[0],
        max: yRange[1],
        afterBuildTicks: (scale) => { scale.ticks = yTicks.map((value) => ({ value })); },
        afterFit: (scale) => { scale.width = 80; },
        ticks: { color: "#000", font: { family: font, size: 13.89 }, padding: 3, autoSkip: false, callback: (v) => String(v) },
        grid: { color: "#b0b0b0", lineWidth: 1, tickColor: "#000", tickLength: 5 },
        border: { color: "#000", width: 1 },
        title: { display: true, text: yLabel, color: "#000", font: { family: font, size: 13.89 }, padding: { top: 13, bottom: 0 } },
      },
    },
  },
});
</script>
</body>
</html>
